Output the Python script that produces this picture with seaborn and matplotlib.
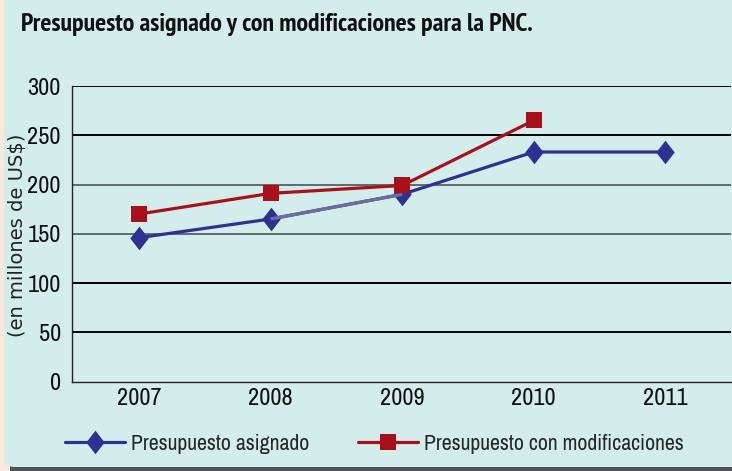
import numpy as np
import pandas as pd
import matplotlib
matplotlib.use("Agg")
import matplotlib.pyplot as plt
import seaborn as sns
from matplotlib.patches import FancyBboxPatch
from matplotlib import font_manager as fm

years = [2007, 2008, 2009, 2010, 2011]
asignado = [146, 165, 190, 233, 233]
modificaciones = [170, 191, 199, 265, np.nan]
yticks = [0, 50, 100, 150, 200, 250, 300]
title = "Presupuesto asignado y con modificaciones para la PNC."
ylabel = "(en millones de US$)"
label_a = "Presupuesto asignado"
label_m = "Presupuesto con modificaciones"

BLUE = "#2E3192"
BLUE_MUTED = "#6C6C9E"
RED = "#A8111A"
PANEL = "#D3EDEC"
PEACH = "#FCE9DB"

sns.set_style("white")

weights = {}
for f in fm.fontManager.ttflist:
    w = f.weight if isinstance(f.weight, int) else (700 if str(f.weight) == "bold" else 400)
    weights.setdefault(f.name, set()).add(w)
prefs = ["Liberation Sans Narrow", "Arial Narrow", "Archivo Narrow", "PT Sans Narrow",
         "Roboto Condensed", "Fira Sans Condensed", "IBM Plex Sans Condensed",
         "Encode Sans Condensed", "Barlow Condensed", "Open Sans Condensed"]
narrow_name = next((p for p in prefs if p in weights), "DejaVu Sans")
bold_name = next((p for p in prefs if p in weights and max(weights[p]) >= 600), narrow_name)
narrow = [narrow_name, "DejaVu Sans"]
narrow_bold = [bold_name, "DejaVu Sans"]

W, H = 732, 471
fig = plt.figure(figsize=(W / 100, H / 100), dpi=100)
fig.patch.set_facecolor(PEACH)

shadow = FancyBboxPatch((10 / W, -20 / H), (W + 30) / W, (H - 4 + 20) / H,
                        boxstyle="round,pad=0,rounding_size=0.015",
                        transform=fig.transFigure, facecolor="#545454",
                        edgecolor="none", zorder=-2)
panel = FancyBboxPatch((4 / W, 4 / H), (W + 30) / W, (H + 20) / H,
                       boxstyle="round,pad=0,rounding_size=0.015",
                       transform=fig.transFigure, facecolor=PANEL,
                       edgecolor="none", zorder=-1)
fig.patches.extend([shadow, panel])

ax = fig.add_axes([72 / W, 1 - 381.5 / H, (731 - 72) / W, (381.5 - 86) / H])
ax.set_facecolor("none")

df = pd.DataFrame({"year": years, "asignado": asignado, "modificaciones": modificaciones})

diamond = [(0, 1), (0.78, 0), (0, -1), (-0.78, 0), (0, 1)]

sns.lineplot(data=df, x="year", y="asignado", ax=ax, color=BLUE, lw=2.3,
             marker=diamond, markersize=17, markeredgewidth=0,
             markerfacecolor=BLUE, label=label_a, zorder=3)
seg = df.iloc[1:3]
ax.plot(seg["year"], seg["asignado"], color=BLUE_MUTED, lw=2.3, zorder=3.5,
        solid_capstyle="butt")
sns.lineplot(data=df, x="year", y="modificaciones", ax=ax, color=RED, lw=2.3,
             marker="s", markersize=11.5, markeredgewidth=0,
             markerfacecolor=RED, label=label_m, zorder=4)

ax.set_xlim(2006.49, 2011.5)
ax.set_ylim(0, 300)
ax.set_xticks(years)
ax.set_xticklabels([str(y) for y in years], family=narrow, fontsize=17.5, color="#111111")
ax.set_yticks(yticks)
ax.set_yticklabels([str(v) for v in yticks], family=narrow, fontsize=17.5, color="#111111")
ax.tick_params(axis="x", length=0, pad=5)
ax.tick_params(axis="y", length=3, width=1, pad=5, color="#222222")
ax.set_xlabel("")
ax.set_ylabel("")

for s in ["top", "right"]:
    ax.spines[s].set_visible(False)
for s in ["left", "bottom"]:
    ax.spines[s].set_color("#222222")
    ax.spines[s].set_linewidth(1.0)

grid_colors = {50: "#000000", 100: "#000000", 150: "#5E6B6B", 200: "#5E6B6B",
               250: "#000000", 300: "#000000"}
for v in yticks[1:]:
    ax.axhline(v, color=grid_colors[v], lw=1.4, zorder=1)

ax.get_legend().remove()
handles, labels = ax.get_legend_handles_labels()
fig.legend(handles, labels, loc="center left", bbox_to_anchor=(65 / W, 1 - 444 / H),
           ncol=2, frameon=False, handlelength=2.75, columnspacing=2.25,
           handletextpad=0.28, prop={"family": narrow, "size": 15.7},
           borderaxespad=0, borderpad=0)

fig.text(21 / W, 1 - 30.5 / H, title, family=narrow_bold, weight="bold", fontsize=18.65,
         color="#111111", va="baseline", ha="left")
fig.text(17.5 / W, 1 - 235 / H, ylabel, family=["DejaVu Sans"], fontsize=14,
         color="#222222", rotation=90, va="center", ha="center")

fig.savefig("out.png", dpi=100, facecolor=fig.get_facecolor())
